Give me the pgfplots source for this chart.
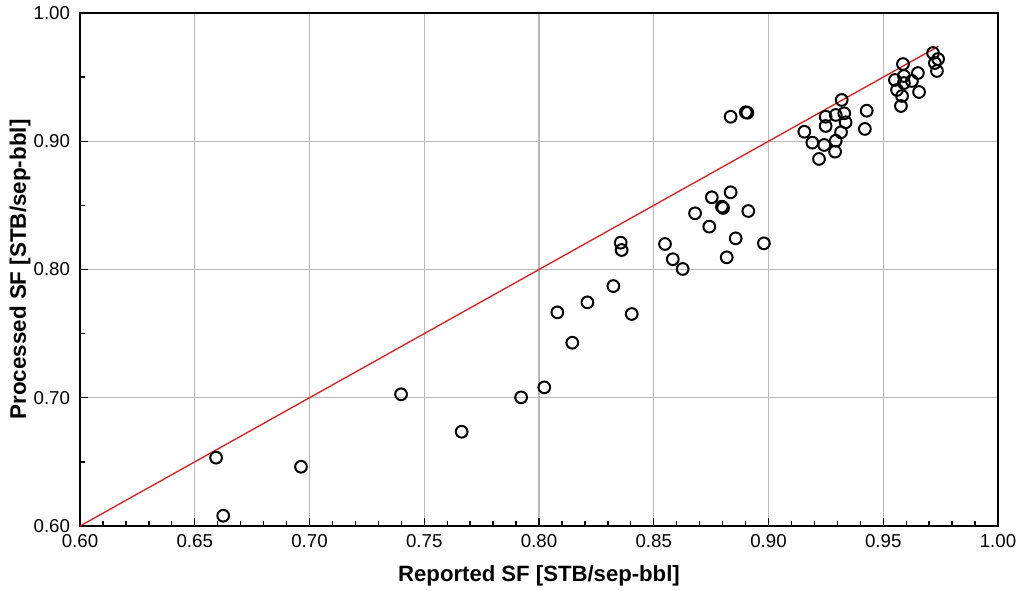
\documentclass[border=0pt]{standalone}
\usepackage{pgfplots}
\pgfplotsset{compat=1.18}
\usepackage{pgfplotstable}
\usepackage{fontspec}
\setmainfont{Liberation Sans}
\definecolor{gridgray}{RGB}{185,185,185}
\definecolor{lred}{RGB}{225,30,30}
\pgfplotstableread{
x y
0.6593 0.6533
0.6624 0.6080
0.6963 0.6462
0.7399 0.7027
0.7663 0.6735
0.7922 0.7003
0.8023 0.7081
0.8080 0.7666
0.8145 0.7429
0.8211 0.7744
0.8324 0.7871
0.8356 0.8209
0.8360 0.8152
0.8404 0.7653
0.8549 0.8199
0.8583 0.8080
0.8626 0.8004
0.8680 0.8438
0.8742 0.8334
0.8753 0.8563
0.8797 0.8490
0.8802 0.8480
0.8835 0.8602
0.8818 0.8095
0.8857 0.8243
0.8912 0.8456
0.8980 0.8204
0.8835 0.9191
0.8901 0.9226
0.8908 0.9222
0.9156 0.9074
0.9191 0.8989
0.9220 0.8862
0.9243 0.8971
0.9249 0.9191
0.9249 0.9119
0.9293 0.9205
0.9293 0.9004
0.9290 0.8919
0.9316 0.9070
0.9319 0.9322
0.9330 0.9218
0.9336 0.9148
0.9420 0.9096
0.9428 0.9238
0.9586 0.9602
0.9551 0.9478
0.9590 0.9509
0.9590 0.9454
0.9625 0.9470
0.9651 0.9532
0.9560 0.9400
0.9582 0.9353
0.9577 0.9275
0.9656 0.9384
0.9717 0.9688
0.9739 0.9641
0.9725 0.9610
0.9734 0.9548
}\datatable
\begin{document}
\begin{tikzpicture}
\useasboundingbox (-60pt,-48pt) rectangle (705.75pt,394.5pt);
\begin{axis}[
  scale only axis,
  width=688.5pt, height=384.75pt,
  at={(0,0)}, anchor=south west,
  xmin=0.6, xmax=1.0, ymin=0.6, ymax=1.0,
  xtick={0.6,0.65,...,1.001},
  ytick={0.6,0.7,...,1.001},
  minor x tick num=4,
  minor y tick num=1,
  xtick pos=bottom, ytick pos=left,
  tick align=inside,
  major tick length=6pt, minor tick length=3.5pt,
  tick style={black, line width=1pt},
  grid=major,
  major grid style={gridgray, line width=0.8pt},
  axis line style={black, line width=1.8pt},
  /pgf/number format/assume math mode=true,
  /pgf/number format/fixed, /pgf/number format/fixed zerofill,
  xticklabel style={/pgf/number format/precision=2, font=\fontsize{14}{16}\selectfont, yshift=-3pt},
  yticklabel style={/pgf/number format/precision=2, font=\fontsize{14}{16}\selectfont, xshift=-4pt},
  xlabel={\textbf{Reported SF [STB/sep-bbl]}},
  ylabel={\textbf{Processed SF [STB/sep-bbl]}},
  xlabel style={at={(axis description cs:0.5,-0.0975)}, anchor=center, font=\fontsize{16.6}{18}\selectfont},
  ylabel style={at={(axis description cs:-0.0654,0.5)}, anchor=center, font=\fontsize{16.8}{18}\selectfont},
  clip=false,
]
\addplot[lred, line width=1pt] coordinates {(0.6,0.6) (0.974,0.974)};
\addplot[only marks, mark=o, mark size=4.4pt, mark options={black, line width=1.5pt}] table[x=x,y=y] {\datatable};
\end{axis}
\end{tikzpicture}
\end{document}
